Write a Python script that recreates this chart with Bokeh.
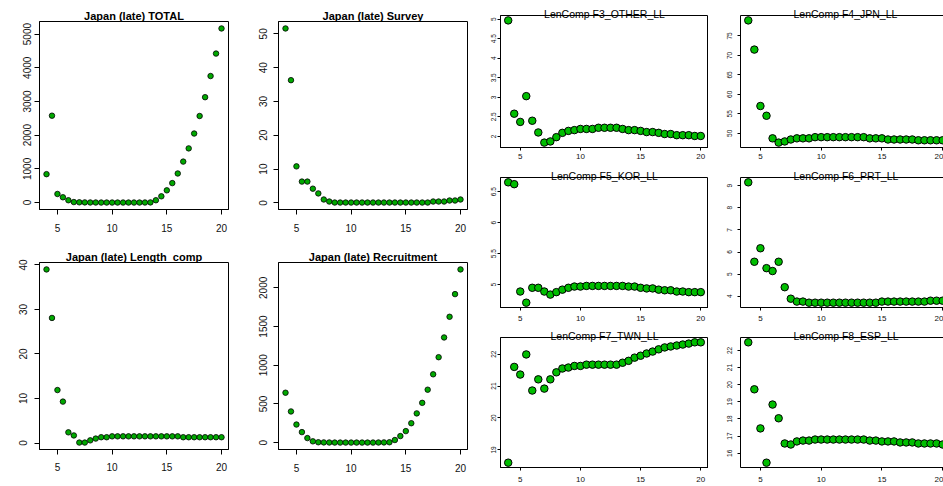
from bokeh.plotting import figure
from bokeh.layouts import row, column
from bokeh.models import Range1d, FixedTicker, LinearAxis
from bokeh.embed import file_html
from bokeh.resources import INLINE

FONT = "Liberation Sans"

# Parameter grid (x axis) shared by every panel
x_vals = [4.0, 4.5, 5.0, 5.5, 6.0, 6.5, 7.0, 7.5, 8.0, 8.5, 9.0, 9.5, 10.0, 10.5, 11.0,
          11.5, 12.0, 12.5, 13.0, 13.5, 14.0, 14.5, 15.0, 15.5, 16.0, 16.5, 17.0,
          17.5, 18.0, 18.5, 19.0, 19.5, 20.0]
x_ticks = [5, 10, 15, 20]

# Japan (late) likelihood components
total = [843, 2578, 255, 157, 69, 15, 8, 5, 3, 2, 1, 1, 1, 1, 1, 1, 1, 1, 2, 5,
         69, 186, 363, 578, 863, 1216, 1608, 2049, 2569, 3127, 3755, 4422, 5167]
survey = [51.6, 36.3, 10.8, 6.3, 6.3, 4.2, 2.8, 1.0, 0.4, 0.1, 0.1, 0.1, 0.1, 0.1,
          0.1, 0.1, 0.1, 0.1, 0.1, 0.1, 0.1, 0.1, 0.1, 0.1, 0.1, 0.1, 0.1,
          0.4, 0.4, 0.4, 0.7, 0.7, 1.0]
length_comp = [39.0, 28.1, 11.9, 9.3, 2.4, 1.7, 0.1, 0.1, 0.6, 1.0, 1.3, 1.3,
               1.5, 1.5, 1.5, 1.5, 1.5, 1.5, 1.5, 1.5, 1.5, 1.5, 1.5, 1.5, 1.5,
               1.3, 1.3, 1.3, 1.3, 1.3, 1.3, 1.3, 1.3]
recruitment = [645, 403, 234, 136, 59, 17, 5, 3, 2, 1, 1, 1, 1, 1, 1, 1, 1, 2, 3, 5,
               34, 85, 149, 251, 378, 514, 684, 883, 1104, 1359, 1626, 1919, 2238]

# Length composition likelihood by fleet
f3_other = [4.97, 2.58, 2.37, 3.03, 2.40, 2.10, 1.84, 1.87, 1.98, 2.09, 2.14, 2.16,
            2.19, 2.19, 2.19, 2.22, 2.22, 2.22, 2.22, 2.19, 2.16, 2.16, 2.14, 2.11,
            2.11, 2.09, 2.06, 2.06, 2.03, 2.03, 2.03, 2.01, 2.01]
f4_jpn = [79.0, 71.5, 57.0, 54.5, 48.7, 47.6, 47.9, 48.4, 48.7, 48.7, 48.7, 49.0,
          49.0, 49.0, 49.0, 49.0, 49.0, 49.0, 49.0, 49.0, 48.7, 48.7, 48.7, 48.4,
          48.4, 48.4, 48.4, 48.4, 48.2, 48.2, 48.2, 48.2, 48.2]
f5_kor = [6.65, 6.62, 4.89, 4.71, 4.95, 4.95, 4.89, 4.84, 4.88, 4.92, 4.95, 4.97,
          4.97, 4.98, 4.98, 4.98, 4.98, 4.98, 4.98, 4.98, 4.97, 4.97, 4.95, 4.94,
          4.94, 4.92, 4.91, 4.91, 4.89, 4.89, 4.88, 4.88, 4.88]
f6_prt = [9.15, 5.56, 6.17, 5.27, 5.14, 5.56, 4.41, 3.89, 3.76, 3.76, 3.71, 3.71,
          3.71, 3.71, 3.71, 3.71, 3.71, 3.71, 3.71, 3.71, 3.71, 3.71, 3.76, 3.76,
          3.76, 3.76, 3.76, 3.76, 3.76, 3.76, 3.80, 3.80, 3.80]
f7_twn = [18.60, 21.60, 21.36, 21.99, 20.86, 21.21, 20.92, 21.21, 21.43, 21.55,
          21.58, 21.63, 21.63, 21.67, 21.67, 21.67, 21.67, 21.67, 21.67, 21.73,
          21.79, 21.89, 21.95, 22.02, 22.08, 22.15, 22.21, 22.24, 22.27, 22.30,
          22.33, 22.37, 22.37]
f8_esp = [22.47, 19.73, 17.45, 15.45, 18.84, 18.04, 16.57, 16.51, 16.69, 16.74,
          16.74, 16.80, 16.80, 16.80, 16.80, 16.80, 16.80, 16.80, 16.80, 16.80,
          16.74, 16.74, 16.69, 16.69, 16.69, 16.63, 16.63, 16.63, 16.57, 16.57,
          16.57, 16.57, 16.51]

# y tick positions per panel
total_ticks = [0, 1000, 2000, 3000, 4000, 5000]
survey_ticks = [0, 10, 20, 30, 40, 50]
length_ticks = [0, 10, 20, 30, 40]
recruit_ticks = [0, 500, 1000, 1500, 2000]
f3_ticks = [2.0, 2.5, 3.0, 3.5, 4.0, 4.5, 5.0]
f4_ticks = [50, 55, 60, 65, 70, 75]
f5_ticks = [5.0, 5.5, 6.0, 6.5]
f6_ticks = [4, 5, 6, 7, 8, 9]
f7_ticks = [19, 20, 21, 22]
f8_ticks = [16, 17, 18, 19, 20, 21, 22]

X_START, X_END = 3.36, 20.64


def padded(vals, frac=0.04):
    lo, hi = min(vals), max(vals)
    d = (hi - lo) * frac
    return Range1d(lo - d, hi + d)


def panel(title, yvals, yticks, w, h, borders, big, x_end=X_END, open_right=False,
          y_standoff=3, x_standoff=8):
    left, right, top, bottom = borders
    p = figure(width=w, height=h, x_range=Range1d(X_START, x_end), y_range=padded(yvals),
               output_backend="svg", toolbar_location=None,
               min_border_left=left, min_border_right=right,
               min_border_top=top, min_border_bottom=bottom)
    p.xgrid.visible = False
    p.ygrid.visible = False
    p.background_fill_color = "white"
    p.border_fill_color = "white"

    xax = p.below[0]
    yax = p.left[0]
    xax.ticker = FixedTicker(ticks=x_ticks)
    yax.ticker = FixedTicker(ticks=yticks)
    tick_out = 5 if big else 3
    for ax in (xax, yax):
        ax.axis_line_color = "black"
        ax.major_tick_line_color = "black"
        ax.minor_tick_line_color = None
        ax.major_tick_in = 0
        ax.major_tick_out = tick_out
        ax.major_label_text_font = FONT
        ax.major_label_text_color = "#111111"
    xax.major_label_text_font_size = "10px" if big else "8px"
    yax.major_label_text_font_size = "10px" if big else "6.5px"
    yax.major_label_orientation = "parallel"
    yax.major_label_standoff = y_standoff
    xax.major_label_standoff = x_standoff

    if open_right:
        # frame continues past the right edge of the page: no closing line there
        p.outline_line_color = None
        top_line = LinearAxis(ticker=FixedTicker(ticks=[]), major_tick_out=0,
                              major_tick_in=0, major_label_standoff=0,
                              minor_tick_out=0, minor_tick_in=0,
                              major_label_text_font_size="0px",
                              axis_line_color="black", axis_line_width=1)
        p.add_layout(top_line, "above")
    else:
        p.outline_line_color = "black"
        p.outline_line_width = 1
        p.outline_line_alpha = 1

    p.title.text = title
    p.title.text_font = FONT
    p.title.text_color = "black"
    if big:
        p.title.align = "center"
        p.title.text_font_size = "11px"
        p.title.text_font_style = "bold"
        p.title.standoff = 0
        p.scatter(x_vals, yvals, marker="circle", size=5.5, fill_color="#00A800",
                  line_color="black", line_width=0.8)
    else:
        # small panels: heading sits on the top edge of the frame
        p.title.text_font_size = "10.5px"
        p.title.text_font_style = "normal"
        p.title.standoff = -8
        if open_right:
            p.title.align = "left"
            p.title.offset = 53
        else:
            p.title.align = "center"
        p.scatter(x_vals, yvals, marker="circle", size=7.5, fill_color="#00BE00",
                  line_color="black", line_width=1)
    return p


p1 = panel("Japan (late) TOTAL", total, total_ticks, 236, 243, (39, 8, 21, 34), True,
           y_standoff=3, x_standoff=9)
p2 = panel("Japan (late) Survey", survey, survey_ticks, 236, 243, (42, 5, 21, 34), True,
           y_standoff=6, x_standoff=9)
p3 = panel("Japan (late) Length_comp", length_comp, length_ticks, 236, 243,
           (39, 8, 19, 37), True, y_standoff=7, x_standoff=8)
p4 = panel("Japan (late) Recruitment", recruitment, recruit_ticks, 236, 243,
           (42, 5, 18, 37), True, y_standoff=6, x_standoff=9)

f3 = panel("LenComp F3_OTHER_LL", f3_other, f3_ticks, 236, 162, (28, 0, 15, 15), False,
           y_standoff=1, x_standoff=3)
f4 = panel("LenComp F4_JPN_LL", f4_jpn, f4_ticks, 235, 162, (32, 0, 15, 15), False,
           x_end=20.07, open_right=True, y_standoff=5, x_standoff=3)
f5 = panel("LenComp F5_KOR_LL", f5_kor, f5_ticks, 236, 162, (28, 0, 15, 17), False,
           y_standoff=1, x_standoff=5)
f6 = panel("LenComp F6_PRT_LL", f6_prt, f6_ticks, 235, 162, (32, 0, 15, 17), False,
           x_end=20.07, open_right=True, y_standoff=5, x_standoff=5)
f7 = panel("LenComp F7_TWN_LL", f7_twn, f7_ticks, 236, 162, (28, 0, 13, 19), False,
           y_standoff=1, x_standoff=6)
f8 = panel("LenComp F8_ESP_LL", f8_esp, f8_ticks, 235, 162, (32, 0, 13, 19), False,
           x_end=20.07, open_right=True, y_standoff=5, x_standoff=6)

left_block = column(row(p1, p2), row(p3, p4))
right_block = column(row(f3, f4), row(f5, f6), row(f7, f8))
layout = row(left_block, right_block)

open("out.html", "w").write(file_html(layout, INLINE))
